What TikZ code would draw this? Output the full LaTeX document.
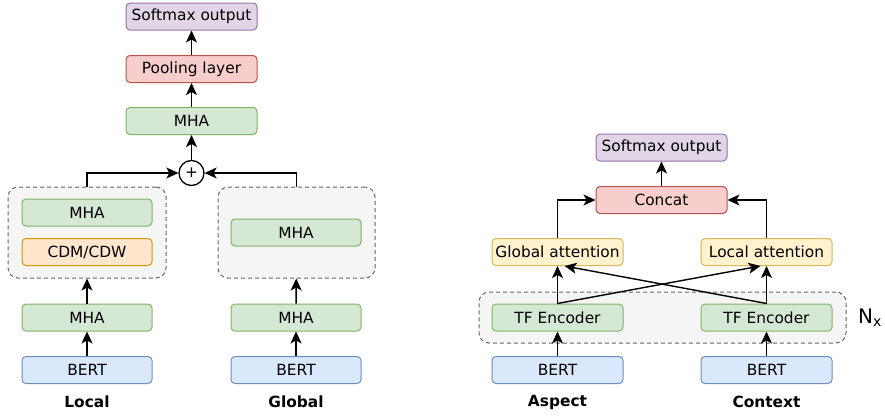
\documentclass[tikz,border=0pt]{standalone}
\usepackage{fontspec}
\setmainfont{DejaVu Sans}
\usetikzlibrary{arrows.meta}
\definecolor{purF}{HTML}{E1D5E7}\definecolor{purD}{HTML}{9673A6}
\definecolor{redF}{HTML}{F8CECC}\definecolor{redD}{HTML}{B85450}
\definecolor{grnF}{HTML}{D5E8D4}\definecolor{grnD}{HTML}{82B366}
\definecolor{bluF}{HTML}{DAE8FC}\definecolor{bluD}{HTML}{6C8EBF}
\definecolor{orgF}{HTML}{FFE6CC}\definecolor{orgD}{HTML}{D79B00}
\definecolor{ylwF}{HTML}{FFF2CC}\definecolor{ylwD}{HTML}{D6B656}
\definecolor{gryF}{HTML}{F5F5F5}\definecolor{gryD}{HTML}{666666}
\tikzset{
  blk/.style={rectangle, rounded corners=4pt, line width=1pt, inner sep=0pt,
    minimum width=131pt, minimum height=27pt,
    font=\fontsize{15.4}{18}\selectfont},
  purbox/.style={blk, fill=purF, draw=purD},
  redbox/.style={blk, fill=redF, draw=redD},
  grnbox/.style={blk, fill=grnF, draw=grnD},
  blubox/.style={blk, fill=bluF, draw=bluD},
  orgbox/.style={blk, fill=orgF, draw=orgD},
  ylwbox/.style={blk, fill=ylwF, draw=ylwD},
  group/.style={rectangle, rounded corners=10pt, dash pattern=on 4pt off 3pt,
    line width=1pt, fill=gryF, draw=gryD, inner sep=0pt},
  caption/.style={font=\fontsize{15.4}{18}\selectfont\bfseries},
  flow/.style={line width=1.4pt, -{Stealth[length=12pt,width=11pt,inset=3pt]}}
}
\begin{document}
\begin{tikzpicture}[x=1pt,y=-1pt]
\useasboundingbox (0,0) rectangle (885,415);

% ---- left model: Local / Global branches ----
\node[group, minimum width=158pt, minimum height=91pt] (dashL) at (87,232.5) {};
\node[group, minimum width=157pt, minimum height=91pt] (dashG) at (296.5,232.5) {};

\node[purbox] (smL) at (191.5,16.5) {Softmax output};
\node[redbox] (pool) at (191.5,69) {Pooling layer};
\node[grnbox] (mhaT) at (191.5,121) {MHA};
\node[circle, draw, fill=white, line width=1.3pt, minimum size=25pt, inner sep=0pt,
      font=\fontsize{15.4}{18}\selectfont] (plus) at (191.5,173) {+};

\node[grnbox, minimum width=130pt] (mhaL1) at (87,212.5) {MHA};
\node[orgbox, minimum width=130pt] (cdm) at (87,252) {CDM/CDW};
\node[grnbox, minimum width=130pt] (mhaG1) at (296,232.5) {MHA};

\node[grnbox, minimum width=130pt] (mhaL2) at (87,317.5) {MHA};
\node[grnbox, minimum width=130pt] (mhaG2) at (296,317.5) {MHA};
\node[blubox, minimum width=130pt] (bertL) at (87,370) {BERT};
\node[blubox, minimum width=130pt] (bertG) at (296,370) {BERT};
\node[caption] (capL) at (87,402) {Local};
\node[caption] (capG) at (296,402) {Global};

\draw[flow] (bertL) -- (mhaL2);
\draw[flow] (bertG) -- (mhaG2);
\draw[flow] (mhaL2) -- (dashL);
\draw[flow] (mhaG2) -- (dashG);
\draw[flow] (dashL.north) |- (plus.west);
\draw[flow] (dashG.north) |- (plus.east);
\draw[flow] (plus) -- (mhaT);
\draw[flow] (mhaT) -- (pool);
\draw[flow] (pool) -- (smL);

% ---- right model: Aspect / Context encoders ----
\node[group, minimum width=367pt, minimum height=51pt] (dashR) at (662.5,317.5) {};
\node[purbox] (smR) at (661.5,147.5) {Softmax output};
\node[redbox] (concat) at (661.5,200) {Concat};
\node[ylwbox] (gatt) at (557.5,252) {Global attention};
\node[ylwbox] (latt) at (766.5,252) {Local attention};
\node[grnbox] (enc1) at (557.5,317.5) {TF Encoder};
\node[grnbox] (enc2) at (766.5,317.5) {TF Encoder};
\node[blubox] (bertA) at (557.5,370) {BERT};
\node[blubox] (bertC) at (766.5,370) {BERT};
\node[caption] (capA) at (557.5,402) {Aspect};
\node[caption] (capC) at (766.5,402) {Context};
\node[font=\fontsize{20}{24}\selectfont] (nx) at (870,318) {N\textsubscript{x}};

\draw[flow] (bertA) -- (enc1);
\draw[flow] (bertC) -- (enc2);
\draw[flow] (enc1) -- (gatt);
\draw[flow] (enc2) -- (latt);
\draw[flow] (enc1.north) -- ([xshift=-6pt]latt.south);
\draw[flow] (enc2.north) -- ([xshift=7pt]gatt.south);
\draw[flow] (gatt.north) |- (concat.west);
\draw[flow] (latt.north) |- (concat.east);
\draw[flow] (concat) -- (smR);
\end{tikzpicture}
\end{document}
